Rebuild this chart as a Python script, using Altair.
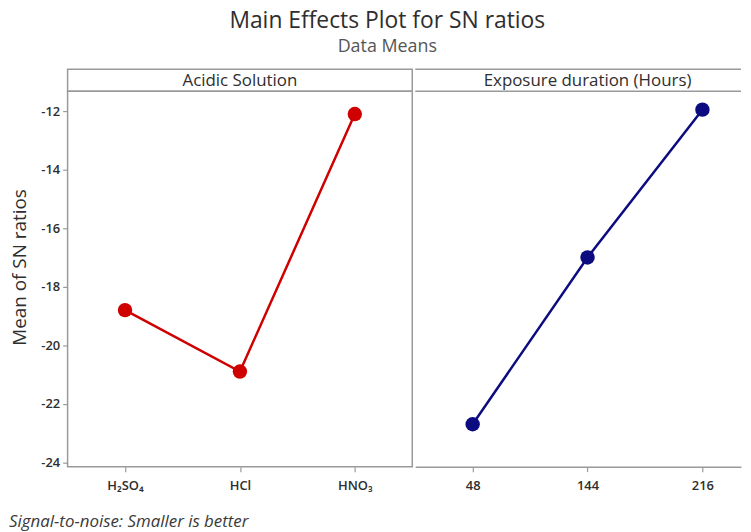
import altair as alt
import pandas as pd

# ---- data ----
acid_levels = ["H\u2082SO\u2084", "HCl", "HNO\u2083"]
acid_means = [-18.8, -20.9, -12.1]
hours_levels = ["48", "144", "216"]
hours_means = [-22.7, -17.0, -11.95]
panel_titles = ["Acidic Solution", "Exposure duration (Hours)"]
y_ticks = [-24, -22, -20, -18, -16, -14, -12]
title_text = "Main Effects Plot for SN ratios"
subtitle_text = "Data Means"
footer_text = ["Signal-to-noise: Smaller is better"]
y_title = "Mean of SN ratios"

FONT = "Open Sans"
FRAME = "#9a9a9a"
TXT = "#2e2e2e"
PW, PW_R, PH, HH = 347, 328, 378, 22
NOSTROKE = alt.ViewBackground(stroke="transparent")


def header(label, width, right_open=False):
    txt = (
        alt.Chart(pd.DataFrame({"label": [label]}))
        .mark_text(font=FONT, fontSize=17, color=TXT, baseline="middle")
        .encode(text="label:N", x=alt.value(PW / 2), y=alt.value(HH / 2 + 1))
    )
    if not right_open:
        return txt.properties(width=width, height=HH)
    rule_df = pd.DataFrame({"edge": ["top", "bottom"]})
    top = alt.Chart(rule_df.iloc[:1]).mark_rule(color=FRAME, strokeWidth=1.5).encode(
        x=alt.value(0), x2=alt.value(width), y=alt.value(0))
    bot = alt.Chart(rule_df.iloc[1:]).mark_rule(color=FRAME, strokeWidth=1.5).encode(
        x=alt.value(0), x2=alt.value(width), y=alt.value(HH))
    return alt.layer(txt, top, bot).properties(width=width, height=HH, view=NOSTROKE)


def panel(levels, means, color, width, show_y, footer=False, scale_kw=None):
    df = pd.DataFrame({"level": levels, "mean": means})
    x = alt.X(
        "level:N",
        sort=levels,
        scale=alt.Scale(type="point", **(scale_kw or {"padding": 0.5})),
        axis=alt.Axis(
            title=None, labelAngle=0, domain=not show_y, domainColor=FRAME,
            domainWidth=1.5, tickColor=FRAME, tickSize=5,
            tickWidth=1.2, labelFontSize=13, labelFontWeight=600, labelColor=TXT,
            labelPadding=8, labelFont=FONT,
        ),
    )
    yscale = alt.Scale(domain=[-24.15, -11.32], nice=False, zero=False)
    if show_y:
        yaxis = alt.Axis(
            values=y_ticks, title=y_title, domain=False, grid=False, tickColor=FRAME,
            tickSize=5, tickWidth=1.2, labelFontSize=13, labelFontWeight=600,
            labelColor=TXT, labelFont=FONT, labelPadding=3,
            labelExpr="replace(datum.label, '\u2212', '-')",
            titleFont=FONT, titleFontSize=19, titleFontWeight="normal",
            titleColor=TXT, titlePadding=11, titleY=PH / 2 - 12,
        )
    else:
        yaxis = None
    y = alt.Y("mean:Q", scale=yscale, axis=yaxis)
    base = alt.Chart(df).encode(x=x, y=y)
    line = base.mark_line(color=color, strokeWidth=2.5)
    pts = base.mark_point(filled=True, shape="circle", size=210, color=color, opacity=1)
    layers = [line, pts]
    if footer:
        ft = (
            alt.Chart(pd.DataFrame({"t": footer_text}))
            .mark_text(font=FONT, fontSize=17, fontStyle="italic", color="#3a3a3a",
                       align="left", baseline="alphabetic")
            .encode(text="t:N", x=alt.value(-59), y=alt.value(PH + 61))
        )
        layers.append(ft)
    ch = alt.layer(*layers).properties(width=width, height=PH)
    if not show_y:
        ch = ch.properties(view=NOSTROKE)
    return ch


left = alt.vconcat(header(panel_titles[0], PW),
                   panel(acid_levels, acid_means, "#cf0000", PW, True, footer=True),
                   spacing=0, bounds="flush")
right = alt.vconcat(header(panel_titles[1], PW_R, right_open=True),
                    panel(hours_levels, hours_means, "#0c0c80", PW_R, False,
                          scale_kw={"padding": 0.4179, "align": 0.598}),
                    spacing=0, bounds="flush")

chart = (
    alt.hconcat(left, right, spacing=0)
    .properties(
        title=alt.TitleParams(
            text=title_text, subtitle=subtitle_text, anchor="middle", frame="bounds",
            dx=12, offset=12, font=FONT, fontSize=23, fontWeight="normal",
            color=TXT, subtitleFont=FONT, subtitleFontSize=18,
            subtitleColor="#555555", subtitlePadding=5,
        ),
        padding={"left": 0, "top": 0, "right": 0, "bottom": 0},
    )
    .configure_view(stroke=FRAME, strokeWidth=1.5)
)

chart.save("out.html", embed_options={"renderer": "svg", "actions": False})
